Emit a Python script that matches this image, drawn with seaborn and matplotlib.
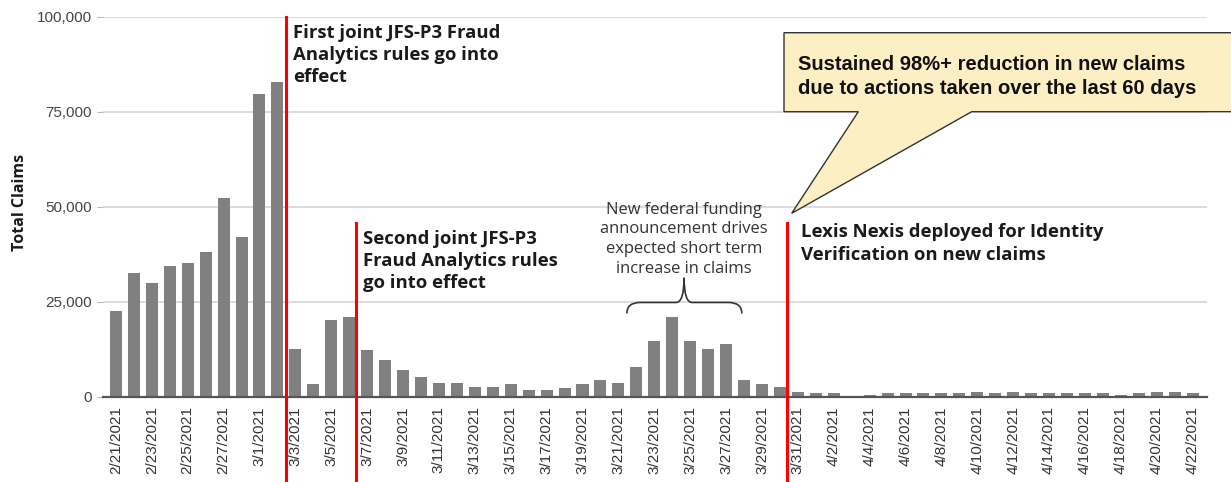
import matplotlib
matplotlib.use("Agg")
import matplotlib.pyplot as plt
import pandas as pd
import seaborn as sns
from matplotlib.patches import Polygon, PathPatch
from matplotlib.path import Path

# daily claims, 2/21/2021 .. 4/22/2021
start_date = "2021-02-21"
end_date = "2021-04-22"
claims_feb = [22600, 32600, 29800, 34500, 35300, 38100, 52400, 42000]
claims_mar = [79600, 82900, 12600, 3300, 20200, 20900, 12300, 9700, 6900, 5100,
              3700, 3700, 2600, 2600, 3300, 1800, 1800, 2200, 3300, 4400,
              3700, 7900, 14700, 20900, 14700, 12600, 14000, 4400, 3300, 2500, 1300]
claims_apr = [1000, 1000, 0, 400, 900, 1000, 1000, 1000, 1000, 1300, 1000,
              1300, 1000, 1000, 1000, 1000, 1000, 400, 1000, 1300, 1300, 1000]
y_ticks = [0, 25000, 50000, 75000, 100000]

# event markers (bar-index position, top of line)
event_pos = [9.45, 13.4, 37.4]
event_top = [100000, 45700, 45700]
event_text = ["First joint JFS-P3 Fraud\nAnalytics rules go into\neffect",
              "Second joint JFS-P3\nFraud Analytics rules\ngo into effect",
              "Lexis Nexis deployed for Identity\nVerification on new claims"]
event_text_dx = [0.42, 0.38, 0.8]
event_text_y = [98200, 43950, 45600]

dates = pd.date_range(start_date, end_date, freq="D")
labels = [f"{d.month}/{d.day}/{d.year}" for d in dates]
df = pd.DataFrame({"date": labels, "claims": claims_feb + claims_mar + claims_apr})

W, H = 1231, 482
fig = plt.figure(figsize=(W / 100, H / 100), dpi=100, facecolor="w")
ax = fig.add_axes([103 / W, 1 - 396.7 / H, (1207 - 103) / W, 380 / H])

sns.barplot(data=df, x="date", y="claims", color="#808080", saturation=1,
            width=0.67, ax=ax, zorder=2)

ax.set_xlim(-0.72, 60.8)
ax.set_ylim(0, 100000)
ax.set_yticks(y_ticks)
ax.set_yticklabels([f"{v:,}" for v in y_ticks], fontfamily="Liberation Sans",
                   fontsize=11, color="#444444")
ax.set_xticks(range(0, len(labels), 2))
ax.set_xticklabels(labels[::2], rotation=90, fontfamily="Liberation Sans",
                   fontsize=11, color="#333333")
ax.tick_params(axis="x", length=0, pad=7)
ax.tick_params(axis="y", length=4, color="#bbbbbb", pad=4)
ax.set_xlabel("")
ax.set_ylabel("Total Claims", fontfamily="Open Sans", fontweight="bold",
              fontsize=11.5, color="#1a1a1a")
ax.yaxis.set_label_coords(-0.068, 0.51)
ax.grid(axis="y", color="#d9d9d9", linewidth=1.3, zorder=0)
ax.set_axisbelow(True)
for s in ["top", "right", "left"]:
    ax.spines[s].set_visible(False)
ax.spines["bottom"].set_color("#555555")
ax.spines["bottom"].set_linewidth(1.6)
ax.spines["bottom"].set_zorder(3)

# red event lines running down through the tick labels
for xp, yt, txt, dx, ty in zip(event_pos, event_top, event_text, event_text_dx, event_text_y):
    ax.plot([xp, xp], [yt, -23500], color="red", lw=2.2, clip_on=False, zorder=4)
    ax.text(xp + dx, ty, txt, fontfamily="Open Sans", fontweight="bold",
            fontsize=13.3, color="#1a1a1a", va="top", ha="left", linespacing=1.3)

# funding note with curly brace
ax.text(31.66, 51300, "New federal funding\nannouncement drives\nexpected short term\nincrease in claims",
        fontfamily="Open Sans", fontsize=11.9, color="#333333", ha="center",
        va="top", multialignment="center", linespacing=1.3)
bx0, bx1, bxm = 28.47, 34.88, 31.66
yb, ym, yt = 21900, 24800, 31300
rx, rm = 0.75, 0.45
brace = Path([(bx0, yb), (bx0, ym), (bx0 + rx, ym),
              (bxm - rm, ym), (bxm, ym), (bxm, yt),
              (bxm, yt), (bxm, ym), (bxm + rm, ym),
              (bx1 - rx, ym), (bx1, ym), (bx1, yb)],
             [Path.MOVETO, Path.CURVE3, Path.CURVE3,
              Path.LINETO, Path.CURVE3, Path.CURVE3,
              Path.MOVETO, Path.CURVE3, Path.CURVE3,
              Path.LINETO, Path.CURVE3, Path.CURVE3])
ax.add_patch(PathPatch(brace, fill=False, edgecolor="#333333", lw=1.2, zorder=5))

# speech-bubble callout (figure pixel coordinates)
px = [(784, 32.7), (1240, 32.7), (1240, 111.7), (971.7, 111.7),
      (791.7, 213.3), (858.3, 111.7), (784, 111.7)]
callout = Polygon([(x / W, 1 - y / H) for x, y in px], closed=True,
                  transform=fig.transFigure, facecolor="#fcefc3",
                  edgecolor="#333333", lw=1.0, zorder=10)
fig.patches.append(callout)
fig.text(798 / W, 1 - 55 / H,
         "Sustained 98%+ reduction in new claims\ndue to actions taken over the last 60 days",
         fontfamily="Liberation Sans", fontweight="bold", fontsize=14.5,
         color="#111111", va="top", ha="left", linespacing=1.3, zorder=11)

fig.savefig("out.png", dpi=100)
